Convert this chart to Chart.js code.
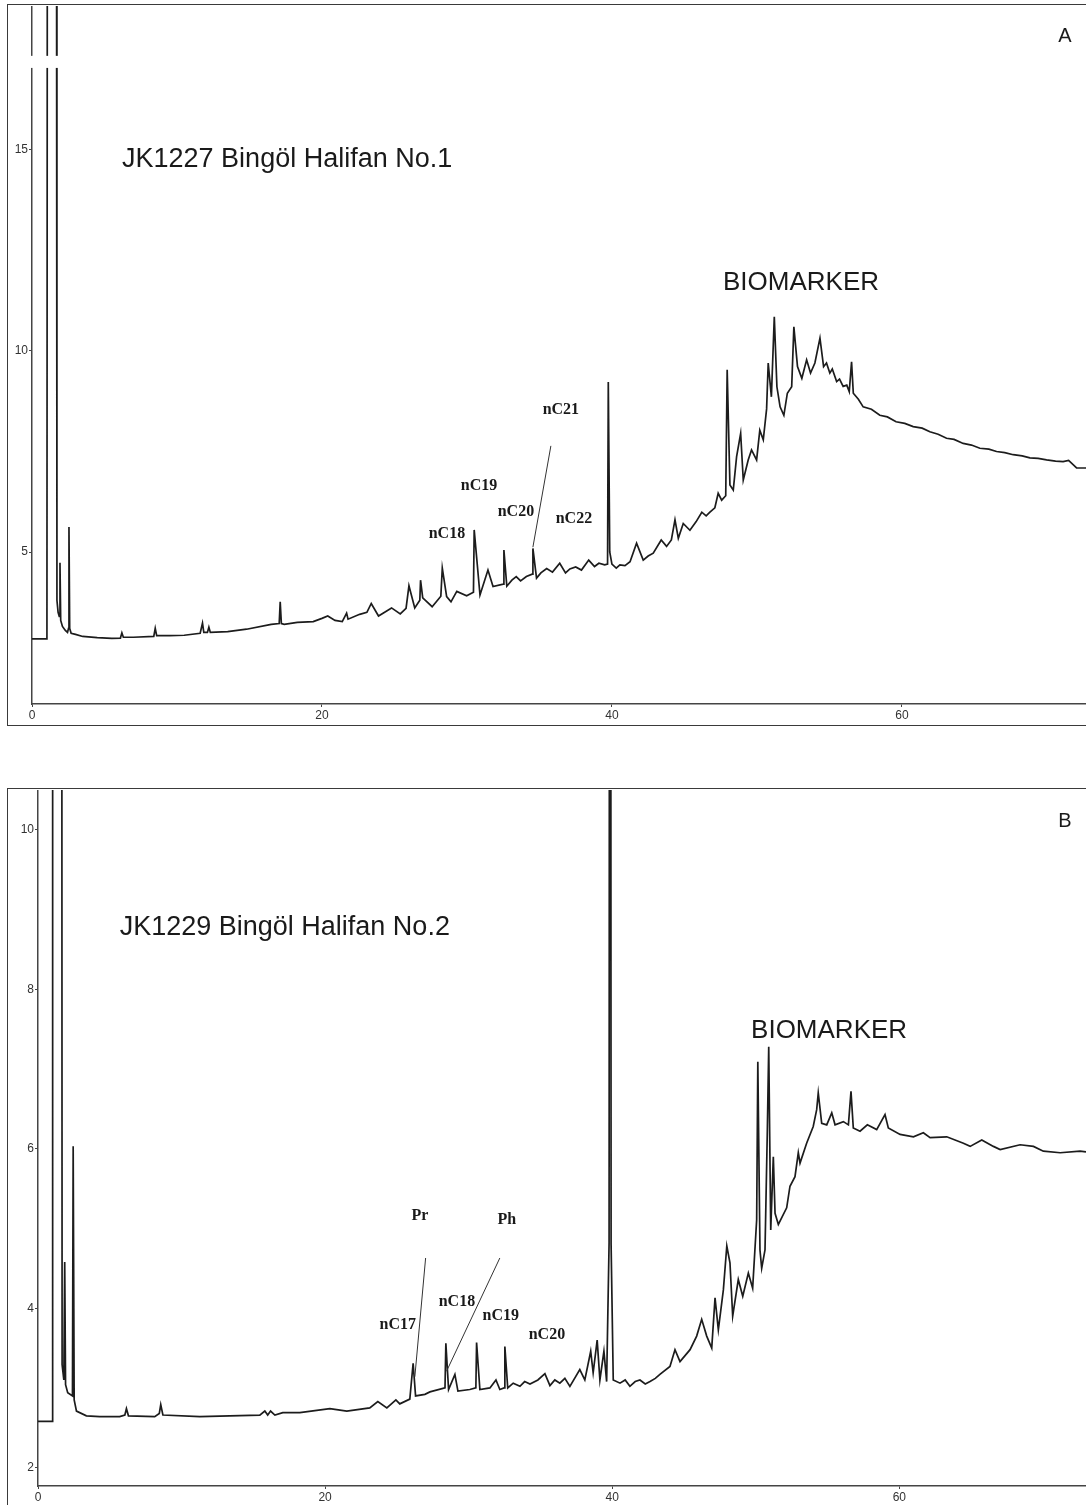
<!DOCTYPE html>
<html>
<head>
<meta charset="utf-8">
<script src="https://cdn.jsdelivr.net/npm/chart.js@4.4.0/dist/chart.umd.min.js"></script>
<style>
  html, body { margin: 0; padding: 0; background: #fff; overflow: hidden; }
  body { width: 1086px; height: 1505px; position: relative; }
  .frame { position: absolute; border: 1px solid #3a3a3a; box-sizing: border-box; }
  .box { position: absolute; }
</style>
</head>
<body>
<div class="frame" style="left:7px; top:4px; width:1100px; height:722px;"></div>
<div class="box" style="left:8px; top:6px; width:1078px; height:720px;"><canvas id="chartA"></canvas></div>
<div class="frame" style="left:7px; top:788px; width:1100px; height:740px;"></div>
<div class="box" style="left:8px; top:790px; width:1078px; height:715px;"><canvas id="chartB"></canvas></div>
<script>
// retention time (min) / detector response
const traceA = [
  [0,2.84],[1.03,2.84],[1.07,30],[1.68,30],[1.72,3.8],[1.8,3.5],[1.88,3.4],[1.93,4.73],[1.98,3.3],[2.1,3.15],
  [2.3,3.05],[2.45,3.0],[2.52,3.1],[2.55,5.62],[2.6,3.1],[2.7,2.98],[3.0,2.95],[3.5,2.9],[4.5,2.87],[5.5,2.85],
  [6.1,2.86],[6.2,2.99],[6.3,2.88],[7.0,2.88],[8.4,2.9],[8.5,3.1],[8.6,2.92],[9.5,2.92],[10.5,2.93],[11.6,2.98],
  [11.76,3.23],[11.85,3.0],[12.1,3.0],[12.2,3.13],[12.3,3.0],[13.5,3.02],[14.8,3.08],[16.5,3.2],[17.05,3.22],[17.12,3.76],
  [17.2,3.22],[17.4,3.2],[18.3,3.25],[19.4,3.27],[20.0,3.35],[20.4,3.41],[20.9,3.3],[21.4,3.27],[21.7,3.48],[21.8,3.33],
  [22.6,3.45],[23.1,3.5],[23.4,3.72],[23.9,3.41],[24.8,3.61],[25.4,3.46],[25.8,3.6],[26.0,4.16],[26.4,3.61],[26.75,3.8],
  [26.8,4.30],[26.95,3.86],[27.6,3.64],[28.2,3.9],[28.3,4.6],[28.6,3.89],[28.9,3.76],[29.3,4.02],[29.98,3.91],[30.45,4.0],
  [30.5,5.55],[30.9,3.93],[31.45,4.55],[31.8,4.14],[32.5,4.2],[32.55,5.05],[32.75,4.15],[33.1,4.3],[33.4,4.39],[33.7,4.28],
  [34.1,4.39],[34.5,4.45],[34.55,5.09],[34.8,4.35],[35.1,4.48],[35.5,4.59],[35.9,4.5],[36.4,4.72],[36.8,4.48],[37.1,4.58],
  [37.5,4.63],[37.9,4.55],[38.4,4.8],[38.8,4.64],[39.1,4.72],[39.5,4.68],[39.7,4.7],
  [39.75,9.23],[39.85,5.0],[40.0,4.7],[40.3,4.6],[40.55,4.68],[40.9,4.66],[41.25,4.76],[41.7,5.22],[42.16,4.8],[42.5,4.9],
  [42.85,4.97],[43.4,5.3],[43.77,5.14],[44.1,5.3],[44.35,5.8],[44.58,5.34],[44.92,5.71],[45.38,5.54],[45.8,5.75],[46.2,5.99],
  [46.5,5.9],[46.76,5.99],[47.1,6.1],[47.33,6.46],[47.57,6.29],[47.85,6.4],[47.95,9.53],
  [48.14,6.67],[48.37,6.54],[48.6,7.37],[48.88,7.95],[49.06,6.79],[49.4,7.29],[49.63,7.54],[49.98,7.29],[50.2,8.03],[50.44,7.79],
  [50.67,8.56],[50.78,9.7],[51.0,8.86],[51.2,10.85],[51.38,9.11],[51.6,8.61],[51.86,8.4],[52.1,8.95],[52.4,9.11],[52.55,10.6],
  [52.8,9.61],[53.1,9.32],[53.43,9.78],[53.7,9.45],[54.0,9.7],[54.35,10.32],[54.6,9.61],[54.8,9.7],[55.03,9.45],[55.2,9.55],
  [55.5,9.24],[55.7,9.3],[55.95,9.12],[56.2,9.15],[56.37,8.99],[56.53,9.73],[56.65,8.95],[57.0,8.8],[57.33,8.61],[57.9,8.55],
  [58.48,8.4],[59.0,8.36],[59.6,8.24],[60.2,8.2],[60.78,8.12],[61.4,8.08],[61.93,7.99],[62.5,7.93],[63.08,7.83],[63.6,7.8],
  [64.23,7.7],[64.8,7.66],[65.38,7.58],[66.0,7.56],[66.53,7.5],[67.1,7.47],[67.68,7.42],[68.3,7.39],[68.83,7.34],[69.4,7.33],
  [69.98,7.29],[70.6,7.26],[71.12,7.25],[71.5,7.28],[72.05,7.09],[72.7,7.09]
];

const traceB = [
  [0,2.58],[0.99,2.58],[1.02,30],[1.62,30],[1.68,3.29],[1.8,3.1],[1.86,4.58],[1.92,3.04],[2.07,2.94],[2.4,2.9],
  [2.45,6.03],[2.52,2.85],[2.68,2.71],[3.37,2.65],[4.3,2.64],[5.69,2.64],[6.05,2.66],[6.16,2.74],[6.3,2.65],[8.13,2.64],
  [8.45,2.68],[8.55,2.79],[8.7,2.66],[11.27,2.64],[13.36,2.65],[15.45,2.66],[15.8,2.71],[16.0,2.66],[16.2,2.71],[16.5,2.66],
  [17.05,2.69],[18.24,2.69],[20.33,2.74],[21.51,2.71],[23.11,2.75],[23.67,2.83],[24.3,2.75],[24.93,2.85],[25.2,2.8],[25.9,2.86],
  [26.13,3.31],[26.3,2.9],[26.95,2.92],[27.3,2.95],[28.35,3.0],[28.41,3.56],[28.6,2.98],[29.04,3.17],[29.25,2.96],[30.08,2.98],
  [30.5,3.0],[30.55,3.57],[30.78,2.98],[31.48,3.0],[31.9,3.1],[32.17,2.98],[32.47,3.0],[32.52,3.52],[32.72,3.0],[33.1,3.06],
  [33.57,3.02],[33.9,3.08],[34.27,3.05],[34.82,3.1],[35.31,3.18],[35.66,3.03],[36.0,3.1],[36.35,3.06],[36.7,3.12],[37.05,3.02],
  [37.74,3.23],[38.09,3.1],[38.5,3.46],[38.67,3.19],
  [38.95,3.6],[39.14,3.1],[39.42,3.46],[39.61,3.08],[39.78,4.82],[39.85,30],[39.92,4.8],[40.07,3.1],[40.54,3.06],
  [40.9,3.1],[41.23,3.02],[41.6,3.08],[41.93,3.1],[42.3,3.05],[42.63,3.08],[43.0,3.12],[43.32,3.17],[44.02,3.27],[44.37,3.48],
  [44.72,3.33],[45.42,3.48],[45.88,3.65],[46.23,3.86],
  [46.58,3.65],[46.93,3.5],[47.16,4.13],[47.39,3.73],[47.74,4.23],[47.98,4.78],[48.2,4.57],[48.39,3.9],[48.78,4.36],[49.09,4.15],
  [49.48,4.44],[49.78,4.25],[50.06,5.11],[50.14,7.09],[50.29,4.73],[50.41,4.5],[50.64,4.73],[50.8,6.2],[50.9,7.28],[51.04,4.98],
  [51.22,5.9],[51.34,5.19],[51.57,5.05],[52.15,5.26],[52.38,5.53],[52.73,5.65],[52.96,5.95],[53.08,5.82],[53.54,6.07],[54.0,6.28],
  [54.24,6.49],[54.35,6.7],[54.59,6.32],[54.94,6.3],[55.29,6.45],[55.52,6.3],[56.1,6.34],[56.45,6.3],[56.63,6.72],[56.79,6.26],
  [57.26,6.22],[57.77,6.3],[58.42,6.24],[59.0,6.43],[59.23,6.26],[60.05,6.18],[60.98,6.15],[61.67,6.2],[62.14,6.14],[63.3,6.15],
  [64.46,6.07],[64.93,6.03],[65.74,6.11],[66.55,6.03],[67.02,5.99],[68.41,6.05],[69.34,6.03],[70.03,5.97],[71.2,5.95],[72.59,5.97],
  [73.0,5.96]
];

const xTicks = [0, 20, 40, 60];
const yTicksA = [5, 10, 15];
const yTicksB = [2, 4, 6, 8, 10];

const TICK_FONT = "'Liberation Sans Narrow', 'Liberation Sans', Arial, sans-serif";
const SANS = "'Liberation Sans', Arial, sans-serif";
const SERIF = "bold 16px 'Liberation Serif', 'Times New Roman', serif";

// labels and leader lines, placed in data units
const notesA = {
  gap: [-0.3, 2.1, 17.34, 17.04],
  texts: [
    { t: 'JK1227 Bingöl Halifan No.1', x: 6.21, y: 14.75, font: '27px ' + SANS, align: 'left' },
    { t: 'A', x: 71.24, y: 17.81, font: '20px ' + SANS, align: 'center' },
    { t: 'BIOMARKER', x: 47.66, y: 11.69, font: '26px ' + SANS, align: 'left' },
    { t: 'nC21', x: 36.48, y: 8.53, font: SERIF, align: 'center' },
    { t: 'nC19', x: 30.83, y: 6.64, font: SERIF, align: 'center' },
    { t: 'nC20', x: 33.38, y: 5.99, font: SERIF, align: 'center' },
    { t: 'nC22', x: 37.38, y: 5.82, font: SERIF, align: 'center' },
    { t: 'nC18', x: 28.62, y: 5.45, font: SERIF, align: 'center' }
  ],
  lines: [[34.55, 5.12, 35.79, 7.64]]
};

const notesB = {
  texts: [
    { t: 'JK1229 Bingöl Halifan No.2', x: 5.69, y: 8.77, font: '27px ' + SANS, align: 'left' },
    { t: 'B', x: 71.54, y: 10.1, font: '20px ' + SANS, align: 'center' },
    { t: 'BIOMARKER', x: 49.67, y: 7.48, font: '26px ' + SANS, align: 'left' },
    { t: 'Pr', x: 26.6, y: 5.16, font: SERIF, align: 'center' },
    { t: 'Ph', x: 32.66, y: 5.11, font: SERIF, align: 'center' },
    { t: 'nC17', x: 25.06, y: 3.79, font: SERIF, align: 'center' },
    { t: 'nC18', x: 29.18, y: 4.08, font: SERIF, align: 'center' },
    { t: 'nC19', x: 32.24, y: 3.91, font: SERIF, align: 'center' },
    { t: 'nC20', x: 35.45, y: 3.66, font: SERIF, align: 'center' }
  ],
  lines: [[26.25, 3.14, 27.0, 4.63], [28.46, 3.21, 32.17, 4.63]]
};

const notesPlugin = {
  id: 'notes',
  afterDatasetsDraw(chart, args, opts) {
    const ctx = chart.ctx, x = chart.scales.x, y = chart.scales.y;
    ctx.save();
    if (opts.gap) {
      const g = opts.gap;
      ctx.fillStyle = '#fff';
      const x0 = x.getPixelForValue(g[0]), x1 = x.getPixelForValue(g[1]);
      const y0 = y.getPixelForValue(g[2]), y1 = y.getPixelForValue(g[3]);
      ctx.fillRect(x0, y0, x1 - x0, y1 - y0);
    }
    ctx.strokeStyle = '#333';
    ctx.lineWidth = 1;
    (opts.lines || []).forEach(l => {
      ctx.beginPath();
      ctx.moveTo(x.getPixelForValue(l[0]), y.getPixelForValue(l[1]));
      ctx.lineTo(x.getPixelForValue(l[2]), y.getPixelForValue(l[3]));
      ctx.stroke();
    });
    ctx.fillStyle = '#1a1a1a';
    ctx.textBaseline = 'middle';
    (opts.texts || []).forEach(t => {
      ctx.font = t.font;
      ctx.textAlign = t.align;
      ctx.fillText(t.t, x.getPixelForValue(t.x), y.getPixelForValue(t.y));
    });
    ctx.restore();
  }
};

function noPad(s) {
  s.paddingTop = 0; s.paddingBottom = 0; s.paddingLeft = 0; s.paddingRight = 0;
}

function makeChart(id, trace, o) {
  return new Chart(document.getElementById(id), {
    type: 'line',
    data: {
      datasets: [{
        data: trace.map(p => ({ x: p[0], y: p[1] })),
        borderColor: '#1c1c1c',
        borderWidth: 1.7,
        pointRadius: 0,
        tension: 0,
        fill: false
      }]
    },
    options: {
      responsive: true,
      maintainAspectRatio: false,
      animation: false,
      events: [],
      layout: { padding: 0 },
      plugins: { legend: { display: false }, tooltip: { enabled: false }, notes: o.notes },
      scales: {
        x: {
          type: 'linear', min: 0, max: o.xMax,
          afterFit: s => { s.height = o.xH; noPad(s); },
          afterBuildTicks: s => { s.ticks = xTicks.map(v => ({ value: v })); },
          ticks: { autoSkip: false, maxRotation: 0, padding: 1, color: '#333', font: { family: TICK_FONT, size: 12 } },
          grid: { display: true, drawOnChartArea: false, drawTicks: true, tickLength: 3, color: '#444' },
          border: { display: true, color: '#444', width: 1.5 }
        },
        y: {
          type: 'linear', min: o.yMin, max: o.yMax,
          afterFit: s => { s.width = o.yW; noPad(s); },
          afterBuildTicks: s => { s.ticks = o.yTicks.map(v => ({ value: v })); },
          ticks: { autoSkip: false, padding: 1, color: '#333', font: { family: TICK_FONT, size: 12 } },
          grid: { display: true, drawOnChartArea: false, drawTicks: true, tickLength: 3, color: '#444' },
          border: { display: true, color: '#444', width: 1.5 }
        }
      }
    },
    plugins: [notesPlugin]
  });
}

makeChart('chartA', traceA, { xMax: 72.7, yMin: 1.22, yMax: 18.58, yW: 24, xH: 22, yTicks: yTicksA, notes: notesA });
makeChart('chartB', traceB, { xMax: 73.0, yMin: 1.77, yMax: 10.5, yW: 30, xH: 19, yTicks: yTicksB, notes: notesB });
</script>
</body>
</html>
